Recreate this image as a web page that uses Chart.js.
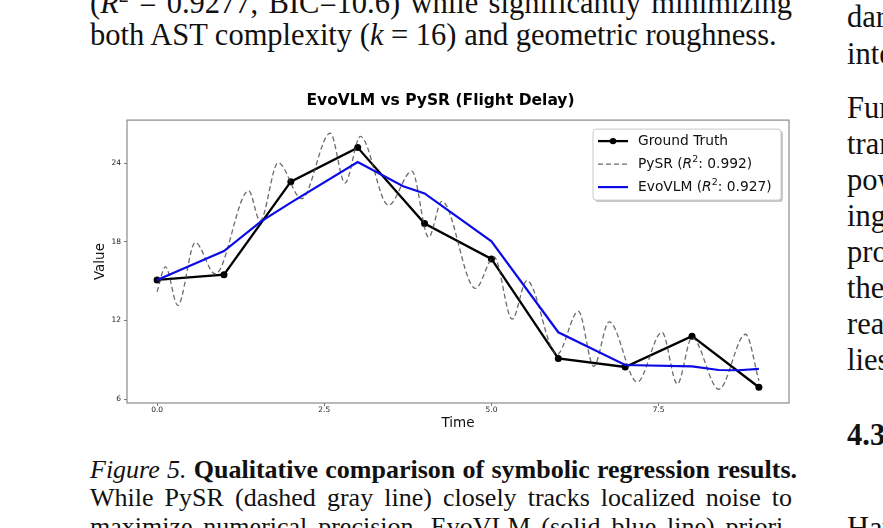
<!DOCTYPE html>
<html lang="en">
<head>
<meta charset="UTF-8">
<title>EvoVLM vs PySR (Flight Delay)</title>
<script src="https://cdn.jsdelivr.net/npm/chart.js"></script>
<style>
  body { margin: 0; background: #fff; }
  #page { position: relative; width: 883px; height: 528px; overflow: hidden; background: #fff;
          font-family: "Liberation Serif", "Times New Roman", serif; color: #111; }
  .ln { position: absolute; white-space: nowrap; line-height: 1; }
  .j { text-align: justify; text-align-last: justify; }
  .bd { font-size: 30.5px; }
  .cp { font-size: 26px; }
  #chartBox { position: absolute; left: 0; top: 0; width: 883px; height: 528px; }
</style>
</head>
<body>
<div id="page">
  <!-- left column text -->
  <div class="ln bd j" style="left:90px; top:-15px; width:702px;">(<i>R</i><sup style="font-size:20px">2</sup> = 0.9277, BIC=10.6) while significantly minimizing</div>
  <div class="ln bd" style="left:90px; top:20px;">both AST complexity (<i>k</i> = 16) and geometric roughness.</div>

  <div class="ln cp j" style="left:90px; top:457px; width:707px;"><i>Figure 5.</i> <b>Qualitative comparison of symbolic regression results.</b></div>
  <div class="ln cp j" style="left:90px; top:485px; width:702px;">While PySR (dashed gray line) closely tracks localized noise to</div>
  <div class="ln cp j" style="left:90px; top:514px; width:702px;">maximize numerical precision, EvoVLM (solid blue line) priori-</div>

  <!-- right column, clipped by the page edge -->
  <div class="ln bd" style="left:847px; top:2px;">dardized</div>
  <div class="ln bd" style="left:847px; top:39px;">interpretable</div>
  <div class="ln bd" style="left:847px; top:93px;">Furthermore</div>
  <div class="ln bd" style="left:847px; top:129px;">transparent</div>
  <div class="ln bd" style="left:847px; top:165px;">powerful</div>
  <div class="ln bd" style="left:847px; top:201px;">ing the</div>
  <div class="ln bd" style="left:847px; top:237px;">process</div>
  <div class="ln bd" style="left:847px; top:273px;">the model</div>
  <div class="ln bd" style="left:847px; top:309px;">reasoning</div>
  <div class="ln bd" style="left:847px; top:345px;">lies in</div>
  <div class="ln bd" style="left:847px; top:420px;"><b>4.3. Ablation</b></div>
  <div class="ln bd" style="left:847px; top:513px;">Having</div>

  <div id="chartBox"><canvas id="myChart"></canvas></div>
</div>

<script>
// values
const gtX = [0, 1, 2, 3, 4, 5, 6, 7, 8, 9];
const gtY = [15.1, 15.5, 22.6, 25.2, 19.4, 16.7, 9.1, 8.45, 10.8, 6.9];

const pysrX = [0, 0.125, 0.31, 0.57, 0.87, 1.37, 1.54, 1.81, 2.16, 2.59, 2.81, 3.04, 3.46, 3.81, 4.06, 4.26,
               4.76, 5.04, 5.31, 5.53, 5.98, 6.30, 6.53, 6.76, 7.18, 7.55, 7.78, 8.0, 8.40, 8.80, 9.0];
const pysrY = [14.2, 16.1, 13.15, 17.95, 15.55, 21.9, 19.6, 24.05, 21.3, 26.3, 22.5, 26.05, 20.8, 23.4, 18.35, 21.1,
               14.45, 16.85, 12.1, 15.05, 9.4, 12.7, 8.5, 11.9, 7.3, 11.1, 7.15, 10.7, 6.75, 10.95, 7.4];

const evoX = [0, 1, 1.55, 2, 3, 3.68, 4, 5, 6, 7, 8, 8.4, 8.7, 9];
const evoY = [15.1, 17.3, 19.55, 21.0, 24.1, 22.25, 21.7, 18.05, 11.1, 8.6, 8.5, 8.22, 8.2, 8.3];

const xTicks = [0, 2.5, 5, 7.5];
const yTicks = [6, 12, 18, 24];

const seriesNames = ['Ground Truth', 'PySR', 'EvoVLM'];
const seriesR2 = [null, '0.992', '0.927'];

function toPts(xs, ys) {
    return xs.map((x, i) => ({x: x, y: ys[i]}));
}

const colGT = '#000000';
const colPySR = 'rgba(70,70,70,0.8)';
const colEvo = '#0b0be8';

// matplotlib style box around the axes
const framePlugin = {
    id: 'frame',
    afterDatasetsDraw(chart) {
        const a = chart.chartArea, ctx = chart.ctx;
        ctx.save();
        ctx.strokeStyle = '#8a8a8a';
        ctx.lineWidth = 1.2;
        ctx.strokeRect(a.left, a.top, a.right - a.left, a.bottom - a.top);
        ctx.restore();
    }
};

// legend with italic R and superscript 2
const legendPlugin = {
    id: 'mplLegend',
    afterDraw(chart) {
        const a = chart.chartArea, ctx = chart.ctx;
        const bw = 188, bh = 71;
        const bx = a.right - bw - 8, by = a.top + 9;
        ctx.save();
        ctx.fillStyle = 'rgba(0,0,0,0.22)';
        ctx.beginPath();
        ctx.roundRect(bx + 2, by + 2, bw, bh, 3);
        ctx.fill();
        ctx.fillStyle = '#fff';
        ctx.strokeStyle = '#c8c8c8';
        ctx.lineWidth = 1;
        ctx.beginPath();
        ctx.roundRect(bx, by, bw, bh, 3);
        ctx.fill();
        ctx.stroke();

        const rows = [by + 12, by + 35, by + 58];
        const x0 = bx + 5, x1 = bx + 35, tx = bx + 45;
        const base = '13.8px "DejaVu Sans"';
        chart.data.datasets.forEach((ds, i) => {
            const y = rows[i];
            ctx.strokeStyle = ds.borderColor;
            ctx.lineWidth = ds.borderWidth;
            ctx.setLineDash(ds.borderDash || []);
            ctx.beginPath();
            ctx.moveTo(x0, y);
            ctx.lineTo(x1, y);
            ctx.stroke();
            ctx.setLineDash([]);
            if (ds.pointRadius > 0) {
                ctx.fillStyle = ds.borderColor;
                ctx.beginPath();
                ctx.arc((x0 + x1) / 2, y, 3.2, 0, Math.PI * 2);
                ctx.fill();
            }
            ctx.fillStyle = '#111';
            ctx.textBaseline = 'middle';
            ctx.textAlign = 'left';
            let x = tx;
            const put = (s, font, dy) => {
                ctx.font = font;
                ctx.fillText(s, x, y + dy);
                x += ctx.measureText(s).width;
            };
            if (seriesR2[i] === null) {
                put(seriesNames[i], base, 0);
            } else {
                put(seriesNames[i] + ' (', base, 0);
                put('R', 'italic ' + base, 0);
                put('2', '9.5px "DejaVu Sans"', -5);
                put(': ' + seriesR2[i] + ')', base, 0);
            }
        });
        ctx.restore();
    }
};

const tickFont = {family: 'DejaVu Sans', size: 7.5};
const labelFont = {family: 'DejaVu Sans', size: 13.5};

var ctx = document.getElementById('myChart').getContext('2d');
var myChart = new Chart(ctx, {
    type: 'line',
    data: {
        datasets: [{
            label: seriesNames[0],
            data: toPts(gtX, gtY),
            borderColor: colGT,
            backgroundColor: colGT,
            borderWidth: 2.3,
            pointRadius: 3.5,
            pointHoverRadius: 3.5,
            pointBorderWidth: 0,
            order: 2
        }, {
            label: seriesNames[1],
            data: toPts(pysrX, pysrY),
            borderColor: colPySR,
            borderWidth: 1.3,
            borderDash: [5, 3],
            pointRadius: 0,
            cubicInterpolationMode: 'monotone',
            order: 1
        }, {
            label: seriesNames[2],
            data: toPts(evoX, evoY),
            borderColor: colEvo,
            borderWidth: 2.2,
            pointRadius: 0,
            order: 0
        }]
    },
    options: {
        responsive: true,
        maintainAspectRatio: false,
        animation: false,
        events: [],
        layout: {padding: {left: 92, right: 94, top: 92, bottom: 96}},
        plugins: {
            legend: {display: false},
            tooltip: {enabled: false},
            title: {
                display: true,
                text: 'EvoVLM vs PySR (Flight Delay)',
                color: '#000',
                font: {family: 'DejaVu Sans', size: 15.5, weight: 'bold'},
                padding: {top: 0, bottom: 9.5}
            }
        },
        scales: {
            x: {
                type: 'linear',
                min: -0.45,
                max: 9.45,
                afterBuildTicks: s => { s.ticks = xTicks.map(v => ({value: v})); },
                afterFit: s => { s.height = 29; },
                grid: {drawOnChartArea: false, drawTicks: true, tickLength: 3, color: '#777'},
                border: {display: false},
                ticks: {padding: 0, color: '#222', font: tickFont, maxRotation: 0, autoSkip: false,
                        callback: v => Number(v).toFixed(1)},
                title: {display: true, text: 'Time', color: '#111', font: labelFont, padding: 0}
            },
            y: {
                type: 'linear',
                min: 5.7,
                max: 27.3,
                afterBuildTicks: s => { s.ticks = yTicks.map(v => ({value: v})); },
                afterFit: s => { s.width = 35; },
                grid: {drawOnChartArea: false, drawTicks: true, tickLength: 3, color: '#777'},
                border: {display: false},
                ticks: {padding: 3, color: '#222', font: tickFont, autoSkip: false,
                        callback: v => String(v)},
                title: {display: true, text: 'Value', color: '#111', font: labelFont, padding: 0}
            }
        }
    },
    plugins: [framePlugin, legendPlugin]
});
</script>
</body>
</html>
